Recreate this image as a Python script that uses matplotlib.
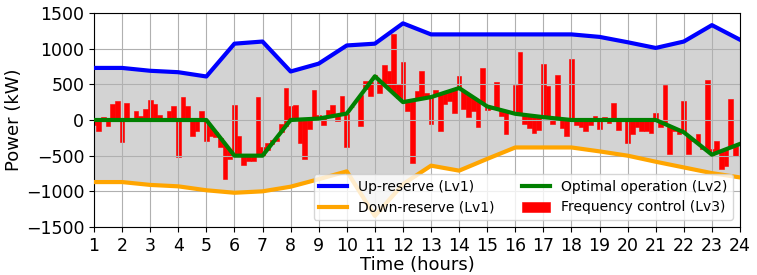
import numpy as np
import matplotlib
matplotlib.use("Agg")
import matplotlib.pyplot as plt

hours = list(range(1, 25))
up_reserve = [730, 730, 690, 670, 610, 1070, 1100, 680, 790, 1045, 1070, 1355,
              1200, 1200, 1200, 1200, 1200, 1200, 1165, 1090, 1010, 1100, 1330, 1125]
down_reserve = [-870, -870, -910, -930, -985, -1020, -1000, -935, -830, -720, -1345, -900,
                -640, -710, -545, -385, -385, -385, -440, -500, -585, -665, -745, -805]
optimal = [0, 0, 0, 0, 0, -500, -500, 0, 20, 90, 613, 251,
           321, 448, 190, 87, 40, 0, 0, 0, 0, -172, -486, -335]

# frequency-controlled power (absolute), every 10 minutes from hour 1 to hour 24
freq_power = [
    -70, -160, 47, -80, 220, 267,
    -314, 244, 0, 127, 61, 155,
    281, 230, 66, 28, 122, 197,
    -525, 323, 202, -225, -150, 131,
    -290, -218, -232, -383, -829, -547,
    204, -218, -631, -570, -570, 322,
    -383, -326, -275, -300, -63, 450,
    190, 214, -320, -547, -130, 425,
    70, -68, 134, 204, -16, 331,
    -383, 180, 270, -90, 540, 340,
    636, 378, 777, 688, 1204, 509,
    815, 120, -600, 410, 680, 378,
    -50, 425, -150, 230, 260, 100,
    612, 150, 40, 120, -92, 735,
    140, 160, 533, 50, -190, 100,
    486, 955, -54, -110, -185, -138,
    791, 472, -54, 636, -110, -218,
    852, -77, -100, -148, -77, 63,
    -124, 49, -45, 242, -138, 0,
    -326, -200, -100, -150, -150, -185,
    96, -100, 486, -476, -150, -200,
    260, -476, -300, -200, -400, 560,
    -400, -300, -690, -640, 288, -500,
    -350,
]

xticks = list(range(1, 25))
yticks = [-1500, -1000, -500, 0, 500, 1000, 1500]

fig = plt.figure(figsize=(7.57, 2.75), dpi=100)
ax = fig.add_axes([94 / 757, 1 - 227 / 275, (740 - 94) / 757, (227 - 13) / 275])

ax.fill_between(hours, down_reserve, up_reserve, color="lightgray", zorder=0.5)

t_bars = 1 + np.arange(len(freq_power)) / 6.0
base = np.interp(t_bars, hours, optimal)
ax.bar(t_bars, np.array(freq_power) - base, bottom=base, width=1 / 6.0,
       color="red", edgecolor="red", linewidth=0.4,
       label="Frequency control (Lv3)", zorder=1)

ax.plot(hours, up_reserve, color="blue", lw=3, label="Up-reserve (Lv1)", zorder=3)
ax.plot(hours, down_reserve, color="orange", lw=3, label="Down-reserve (Lv1)", zorder=3)
ax.plot(hours, optimal, color="green", lw=3, label="Optimal operation (Lv2)", zorder=3)

ax.grid(True, color="#b0b0b0", lw=0.8)
ax.set_xlim(1, 24)
ax.set_ylim(-1500, 1500)
ax.set_xticks(xticks)
ax.set_yticks(yticks)
ax.tick_params(labelsize=12.5)
ax.set_xlabel("Time (hours)", fontsize=13, labelpad=1)
ax.set_ylabel("Power (kW)", fontsize=13, labelpad=2)

handles, labels = ax.get_legend_handles_labels()
order = [labels.index(s) for s in ["Up-reserve (Lv1)", "Down-reserve (Lv1)",
                                    "Optimal operation (Lv2)", "Frequency control (Lv3)"]]
ax.legend([handles[i] for i in order], [labels[i] for i in order],
          loc="lower right", ncol=2, fontsize=10, framealpha=0.8)

fig.savefig("out.png", dpi=100)
